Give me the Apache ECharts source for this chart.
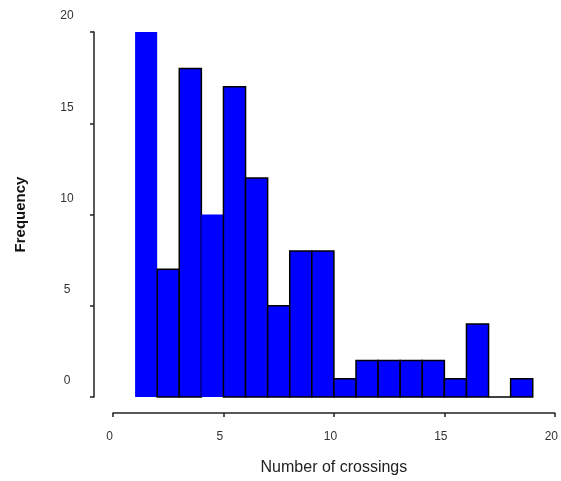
<!DOCTYPE html>
<html>
<head>
<meta charset="utf-8">
<script src="https://cdn.jsdelivr.net/npm/echarts@6/dist/echarts.min.js"></script>
<style>html,body{margin:0;padding:0;background:#fff;}#c{width:561px;height:481px;}</style>
</head>
<body>
<div id="c"></div>
<script>
// Histogram bins (width 1) and their frequencies
const binStarts = [1, 2, 3, 4, 5, 6, 7, 8, 9, 10, 11, 12, 13, 14, 15, 16, 17, 18];
const binEnds   = [2, 3, 4, 5, 6, 7, 8, 9, 10, 11, 12, 13, 14, 15, 16, 17, 18, 19];
const counts    = [20, 7, 18, 10, 17, 12, 5, 8, 8, 1, 2, 2, 2, 2, 1, 4, 0, 1];
const xTicks = [0, 5, 10, 15, 20];
const yTicks = [0, 5, 10, 15, 20];
const xTitle = 'Number of crossings';
const yTitle = 'Frequency';

// style: bins drawn without outline in the reference
const borderless = [0, 3];

const chart = echarts.init(document.getElementById('c'), null, {renderer: 'canvas'});
const data = binStarts.map((s, i) => [s, binEnds[i], counts[i]]);
const font = 'Liberation Sans, Arial, sans-serif';

chart.setOption({
  animation: false,
  backgroundColor: '#ffffff',
  grid: [
    {left: 113, top: 32, width: 445, height: 365, containLabel: false},
    {left: 94, top: 32, width: 445, height: 365, containLabel: false}
  ],
  xAxis: [{
    gridIndex: 0,
    type: 'value', min: 0, max: 20, interval: 5,
    offset: 16,
    name: xTitle, nameLocation: 'middle', nameGap: 47,
    nameTextStyle: {fontFamily: font, fontSize: 16, color: '#222'},
    axisLine: {show: true, onZero: false, lineStyle: {color: '#222', width: 1.5}},
    axisTick: {show: true, length: 4, lineStyle: {color: '#222', width: 1.5}},
    axisLabel: {fontFamily: font, fontSize: 12, color: '#333', margin: 18, padding: [0, 7, 0, 0],
      formatter: v => xTicks.includes(v) ? String(v) : ''},
    splitLine: {show: false}
  }, {
    gridIndex: 1, type: 'value', min: 0, max: 20, show: false
  }],
  yAxis: [{
    gridIndex: 0, type: 'value', min: 0, max: 20, interval: 5, show: false
  }, {
    gridIndex: 1,
    type: 'value', min: 0, max: 20, interval: 5,
    name: yTitle, nameLocation: 'middle', nameGap: 66, nameRotate: 90,
    nameTextStyle: {fontFamily: font, fontSize: 15, fontWeight: 'bold', color: '#111'},
    axisLine: {show: true, lineStyle: {color: '#222', width: 1.5}},
    axisTick: {show: true, length: 4, lineStyle: {color: '#222', width: 1.5}},
    axisLabel: {fontFamily: font, fontSize: 12, color: '#333', margin: 27, align: 'center',
      verticalAlign: 'bottom', padding: [0, 0, 10, 0],
      formatter: v => yTicks.includes(v) ? String(v) : ''},
    splitLine: {show: false}
  }],
  series: [{
    type: 'custom',
    xAxisIndex: 0, yAxisIndex: 0,
    data: data,
    encode: {x: [0, 1], y: 2},
    renderItem: function (params, api) {
      const p0 = api.coord([api.value(0), 0]);
      const p1 = api.coord([api.value(1), api.value(2)]);
      const noBorder = borderless.includes(params.dataIndex);
      return {
        type: 'rect',
        shape: {x: p0[0], y: p1[1], width: p1[0] - p0[0], height: p0[1] - p1[1]},
        style: {
          fill: '#0000ff',
          stroke: noBorder ? null : '#000000',
          lineWidth: noBorder ? 0 : 1.5
        }
      };
    }
  }]
});
</script>
</body>
</html>
